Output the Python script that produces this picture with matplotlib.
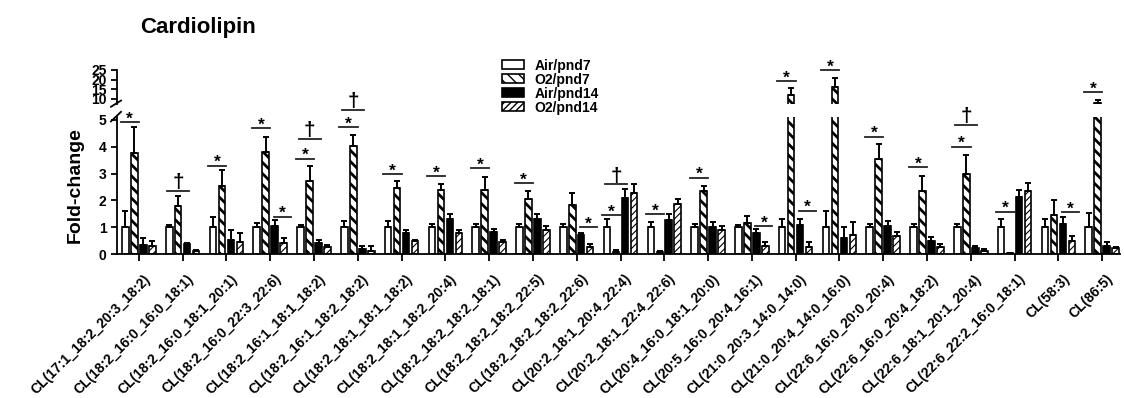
import matplotlib
matplotlib.use("Agg")  # no display in the sandbox
import matplotlib.pyplot as plt
import matplotlib.transforms as mtransforms
import numpy as np

plt.rcParams["font.family"] = ["Liberation Sans", "DejaVu Sans"]
plt.rcParams["font.weight"] = "bold"
plt.rcParams["axes.linewidth"] = 1.3

lipids = [
    "CL(17:1_18:2_20:3_18:2)", "CL(18:2_16:0_16:0_18:1)", "CL(18:2_16:0_18:1_20:1)",
    "CL(18:2_16:0_22:3_22:6)", "CL(18:2_16:1_18:1_18:2)", "CL(18:2_16:1_18:2_18:2)",
    "CL(18:2_18:1_18:1_18:2)", "CL(18:2_18:1_18:2_20:4)", "CL(18:2_18:2_18:2_18:1)",
    "CL(18:2_18:2_18:2_22:5)", "CL(18:2_18:2_18:2_22:6)", "CL(20:2_18:1_20:4_22:4)",
    "CL(20:2_18:1_22:4_22:6)", "CL(20:4_16:0_18:1_20:0)", "CL(20:5_16:0_20:4_16:1)",
    "CL(21:0_20:3_14:0_14:0)", "CL(21:0_20:4_14:0_16:0)", "CL(22:6_16:0_20:0_20:4)",
    "CL(22:6_16:0_20:4_18:2)", "CL(22:6_18:1_20:1_20:4)", "CL(22:6_22:2_16:0_18:1)",
    "CL(58:3)", "CL(86:5)",
]
series = ["Air/pnd7", "O2/pnd7", "Air/pnd14", "O2/pnd14"]

air7 = [1.0] * 23
air7_err = [0.61, 0.10, 0.39, 0.16, 0.08, 0.24, 0.23, 0.11, 0.11, 0.11, 0.11, 0.30,
            0.21, 0.11, 0.09, 0.32, 0.61, 0.12, 0.12, 0.12, 0.31, 0.31, 0.53]
o2_7 = [3.75, 1.78, 2.55, 3.82, 2.71, 4.03, 2.46, 2.40, 2.38, 2.07, 1.84, 0.09,
        0.06, 2.35, 1.14, 12.1, 16.4, 3.54, 2.34, 2.99, 0.03, 1.46, 7.8]
o2_7_err = [0.97, 0.39, 0.59, 0.56, 0.57, 0.41, 0.25, 0.22, 0.49, 0.28, 0.45, 0.06,
            0.06, 0.19, 0.28, 3.6, 4.3, 0.56, 0.56, 0.70, 0.02, 0.57, 1.7]
air14 = [0.33, 0.36, 0.54, 1.05, 0.42, 0.19, 0.77, 1.31, 0.83, 1.31, 0.71, 2.10,
         1.26, 0.99, 0.80, 1.09, 0.59, 1.03, 0.50, 0.21, 2.11, 1.12, 0.31]
air14_err = [0.27, 0.06, 0.36, 0.21, 0.10, 0.12, 0.12, 0.20, 0.12, 0.18, 0.08, 0.31,
             0.25, 0.19, 0.13, 0.23, 0.40, 0.19, 0.15, 0.08, 0.28, 0.25, 0.13]
o2_14 = [0.31, 0.10, 0.43, 0.42, 0.27, 0.12, 0.48, 0.79, 0.46, 0.89, 0.27, 2.29,
         1.86, 0.89, 0.28, 0.27, 0.72, 0.68, 0.27, 0.12, 2.36, 0.50, 0.21]
o2_14_err = [0.17, 0.05, 0.34, 0.16, 0.06, 0.18, 0.06, 0.10, 0.08, 0.15, 0.09, 0.33,
             0.21, 0.14, 0.18, 0.16, 0.46, 0.13, 0.10, 0.05, 0.28, 0.18, 0.06]

# significance marks: (group index, level)
star_12 = [(0, 4.91), (2, 3.3), (3, 4.69), (4, 3.55), (5, 4.73), (6, 2.97), (7, 2.9),
           (8, 3.2), (9, 2.65), (11, 1.45), (12, 1.49), (13, 2.85), (15, 19.3),
           (16, 25.0), (17, 4.38), (18, 3.23), (19, 4.0), (20, 1.58), (22, 13.6)]
star_34 = [(3, 1.39), (10, 0.99), (14, 1.03), (15, 1.61), (21, 1.55)]
dagger = [(1, 2.35), (4, 4.29), (5, 5.38), (11, 2.6), (19, 4.81)]

values = [air7, o2_7, air14, o2_14]
errors = [air7_err, o2_7_err, air14_err, o2_14_err]
styles = [
    dict(color="white", hatch=None, hlw=1.0),
    dict(color="white", hatch="\\\\\\", hlw=2.0),
    dict(color="black", hatch=None, hlw=1.0),
    dict(color="white", hatch="/////", hlw=0.8),
]

fig = plt.figure(figsize=(11.24, 3.98), dpi=100)
ax = fig.add_axes([0.1041, 0.3618, 0.892, 0.3435])
ax_top = fig.add_axes([0.1041, 0.7387, 0.892, 0.0864], sharex=ax)

x = np.arange(len(lipids))
step = 0.205
width = 0.15
handles = []
for i, (vals, errs, st) in enumerate(zip(values, errors, styles)):
    pos = x + (i - 1.5) * step
    for a in (ax, ax_top):
        with plt.rc_context({"hatch.linewidth": st["hlw"]}):
            bars = a.bar(pos, vals, width, color=st["color"], edgecolor="black",
                         hatch=st["hatch"], linewidth=1.2, label=series[i])
        for p in bars:
            if hasattr(p, "set_hatch_linewidth"):
                p.set_hatch_linewidth(st["hlw"])
        a.errorbar(pos, vals, yerr=[np.zeros(len(vals)), errs], fmt="none",
                   ecolor="black", elinewidth=1.4, capsize=2.5, capthick=1.4)
        if a is ax:
            handles.append(bars)

ax.set_xlim(-0.5, 22.4)
ax.set_ylim(0, 5.1)
ax_top.set_ylim(7.4, 25.2)
ax.set_yticks(range(6))
ax_top.set_yticks([10, 15, 20, 25])

for a in (ax, ax_top):
    a.spines["top"].set_visible(False)
    a.spines["right"].set_visible(False)
    a.tick_params(axis="y", labelsize=10, width=1.3, length=4)
ax_top.spines["bottom"].set_visible(False)
ax_top.tick_params(axis="x", bottom=False, labelbottom=False)
ax_top.set_facecolor("none")

ax.set_xticks(x)
ax.set_xticklabels(lipids, rotation=45, ha="right", rotation_mode="anchor", fontsize=10)
ax.tick_params(axis="x", width=1.3, length=5)
shift = mtransforms.ScaledTranslation(4 / 100, -6 / 100, fig.dpi_scale_trans)
for lab in ax.get_xticklabels():
    lab.set_transform(lab.get_transform() + shift)

# break marks on the y axis
kw = dict(color="black", lw=1.3, clip_on=False)
ax.plot([-0.006, 0.004], [0.97, 1.04], transform=ax.transAxes, **kw)
ax_top.plot([-0.006, 0.004], [-0.08, 0.1], transform=ax_top.transAxes, **kw)


def mark(level, x0, x1, sym, size, dy):
    a = ax_top if level > 6 else ax
    a.plot([x0, x1], [level, level], color="#222222", lw=1.3, clip_on=False)
    a.annotate(sym, ((x0 + x1) / 2, level), xytext=(0, dy), textcoords="offset points",
               ha="center", va="baseline", fontsize=size, annotation_clip=False)


for g, lv in star_12:
    mark(lv, g - 0.42, g + 0.0, "*", 12.5, -1)
for g, lv in star_34:
    mark(lv, g + 0.08, g + 0.47, "*", 12.5, -1)
for g, lv in dagger:
    mark(lv, g - 0.35, g + 0.15, "\u2020", 15, 2)

fig.text(0.1246, 0.932, "Cardiolipin", fontsize=16, va="center", ha="left")
fig.text(0.067, 1 - 185 / 398, "Fold-change", fontsize=14, rotation=90,
         va="center", ha="center")
fig.legend(handles=handles, loc="upper left", bbox_to_anchor=(0.44, 0.87),
           frameon=False, fontsize=10, handlelength=1.6, handleheight=0.6,
           handletextpad=0.8, labelspacing=0.0, borderpad=0)

fig.savefig("out.png", dpi=100)
